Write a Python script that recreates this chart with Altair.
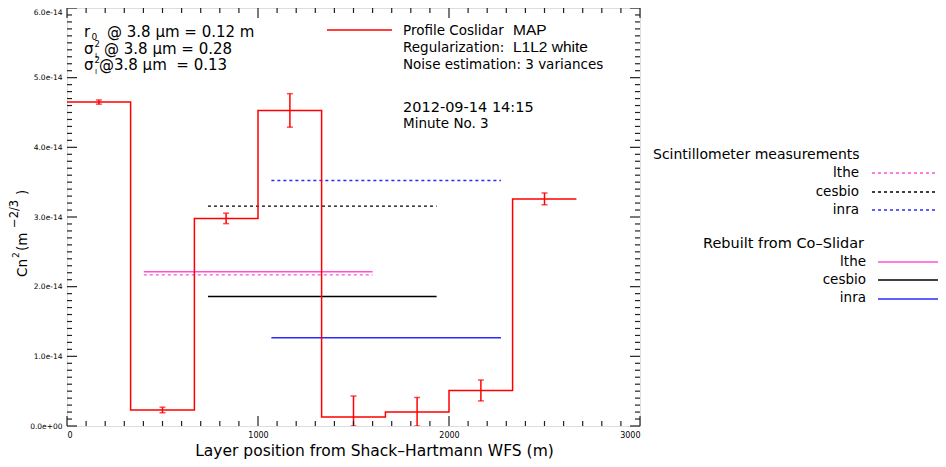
import altair as alt
import pandas as pd

FONT = "DejaVu Sans"
HFONT = "Liberation Sans"
RED = "#ff0000"
PINK = "#ff50d8"
BLUE = "#2a2aff"

# ---- data ----
layer_pos = [167, 500, 833, 1167, 1500, 1833, 2167, 2500]
edges = [0, 333, 667, 1000, 1333, 1667, 2000, 2333, 2667]
cn2 = [4.65e-14, 0.23e-14, 2.98e-14, 4.53e-14, 0.13e-14, 0.20e-14, 0.51e-14, 3.26e-14]
cn2_err = [0.03e-14, 0.04e-14, 0.075e-14, 0.24e-14, 0.30e-14, 0.21e-14, 0.15e-14, 0.085e-14]

inst_names = ["lthe", "cesbio", "inra"]
inst_colors = [PINK, "#000000", BLUE]
path_start = [402, 738, 1070]
path_end = [1600, 1935, 2272]
scint_cn2 = [2.17e-14, 3.156e-14, 3.524e-14]
rebuilt_cn2 = [2.215e-14, 1.858e-14, 1.265e-14]

x_major = [0, 1000, 2000, 3000]
x_minor = [v for v in range(0, 3001, 100) if v % 1000 != 0]
y_major = [i * 1e-14 for i in range(7)]
y_minor = [i * 1e-15 for i in range(61) if i % 10 != 0]

W, H = 573, 418

step_df = pd.DataFrame({"x": edges, "y": cn2 + [cn2[-1]]})
err_df = pd.DataFrame({
    "x": layer_pos,
    "lo": [max(v - e, 0.0) for v, e in zip(cn2, cn2_err)],
    "hi": [v + e for v, e in zip(cn2, cn2_err)],
})
lines_df = pd.DataFrame({
    "name": inst_names, "x": path_start, "x2": path_end,
    "scint": scint_cn2, "rebuilt": rebuilt_cn2,
})

xs = alt.Scale(domain=[0, 3000], nice=False, zero=False)
ys = alt.Scale(domain=[0, 6e-14], nice=False, zero=False)
col_scale = alt.Scale(domain=inst_names, range=inst_colors)

step = alt.Chart(step_df).mark_line(interpolate="step-after", color=RED, strokeWidth=1.5).encode(
    x=alt.X("x:Q", scale=xs, axis=alt.Axis(
        values=x_major, format="d", tickSize=0, domain=False, grid=False,
        labelFontSize=8, labelFont=FONT, labelPadding=5, labelColor="black",
        title="Layer position from Shack\u2013Hartmann WFS (m)", titleFont=FONT,
        titleFontSize=15.5, titleFontWeight="normal", titleX=307, titleY=29,
        titleBaseline="alphabetic", titleColor="black")),
    y=alt.Y("y:Q", scale=ys, axis=alt.Axis(
        values=y_major, tickSize=0, domain=False, grid=False,
        labelExpr="datum.value == 0 ? '0.0e+00' : format(datum.value, '.1e')",
        labelBaseline={"condition": {"test": "datum.value > 5.5e-14", "value": "top"}, "value": "middle"},
        labelFontSize=7.5, labelFont=FONT, labelPadding=5, labelColor="black",
        title="")),
)

err_rule = alt.Chart(err_df).mark_rule(color=RED, strokeWidth=1.5, clip=True).encode(
    x=alt.X("x:Q", scale=xs), y=alt.Y("lo:Q", scale=ys), y2="hi:Q")
cap_lo = alt.Chart(err_df).mark_tick(color=RED, thickness=1.5, size=6, orient="horizontal", clip=True).encode(
    x=alt.X("x:Q", scale=xs), y=alt.Y("lo:Q", scale=ys))
cap_hi = alt.Chart(err_df).mark_tick(color=RED, thickness=1.5, size=6, orient="horizontal", clip=True).encode(
    x=alt.X("x:Q", scale=xs), y=alt.Y("hi:Q", scale=ys))

scint_lines = alt.Chart(lines_df).mark_rule(strokeWidth=1.3, strokeDash=[3, 3]).encode(
    x=alt.X("x:Q", scale=xs), x2="x2:Q", y=alt.Y("scint:Q", scale=ys),
    color=alt.Color("name:N", scale=col_scale, legend=None))
rebuilt_lines = alt.Chart(lines_df).mark_rule(strokeWidth=1.5).encode(
    x=alt.X("x:Q", scale=xs), x2="x2:Q", y=alt.Y("rebuilt:Q", scale=ys),
    color=alt.Color("name:N", scale=col_scale, legend=None))

# inward ticks on all four sides
def xticks(vals, length):
    d = pd.DataFrame({"v": vals})
    b = alt.Chart(d).mark_rule(color="#222", strokeWidth=1.2).encode(
        x=alt.X("v:Q", scale=xs), y=alt.value(H), y2=alt.value(H - length))
    t = alt.Chart(d).mark_rule(color="#222", strokeWidth=1.2).encode(
        x=alt.X("v:Q", scale=xs), y=alt.value(0), y2=alt.value(length))
    return [b, t]

def yticks(vals, length):
    d = pd.DataFrame({"v": vals})
    l = alt.Chart(d).mark_rule(color="#222", strokeWidth=1.2).encode(
        y=alt.Y("v:Q", scale=ys), x=alt.value(0), x2=alt.value(length))
    r = alt.Chart(d).mark_rule(color="#222", strokeWidth=1.2).encode(
        y=alt.Y("v:Q", scale=ys), x=alt.value(W), x2=alt.value(W - length))
    return [l, r]

tick_layers = xticks(x_major, 10) + xticks(x_minor, 5) + yticks(y_major, 10) + yticks(y_minor, 5)

one = alt.Data(values=[{"a": 1}])

def txt(s, x, y, size=13.5, font=FONT, align="left", angle=0):
    return alt.Chart(one).mark_text(
        text=s, align=align, baseline="alphabetic", fontSize=size, font=font,
        angle=angle, color="black").encode(x=alt.value(x), y=alt.value(y))

def seg(x1, x2, y, color, dash=None, width=1.5):
    kw = dict(color=color, strokeWidth=width)
    if dash:
        kw["strokeDash"] = dash
    return alt.Chart(one).mark_rule(**kw).encode(x=alt.value(x1), x2=alt.value(x2), y=alt.value(y))

NB = "\u00a0"
annot = [
    # y-axis title, rotated, with real superscripts
    txt("Cn", -40.5, 269, 13.5, angle=270),
    txt("2", -48.5, 250, 9, angle=270),
    txt("(m", -40.5, 243, 13.5, angle=270),
    txt("\u22122/3", -49, 220, 11.5, angle=270),
    txt(")", -40.5, 187, 13.5, angle=270),
    # top-left parameters
    txt("r", 17, 28.5, 15), txt("0", 24.5, 32, 9),
    txt("@ 3.8 \u03bcm = 0.12 m", 40, 28.5, 15),
    txt("\u03c3", 17, 46, 15), txt("2", 27.5, 39, 8.5), txt("L", 28, 50, 7),
    txt("@ 3.8 \u03bcm = 0.28", 37, 46, 15),
    txt("\u03c3", 17, 62, 15), txt("2", 27.5, 55, 8.5), txt("I", 28, 66, 7),
    txt("@3.8 \u03bcm" + NB + NB + "= 0.13", 32, 62, 15),
    # profile legend
    seg(260, 325, 22, RED),
    txt("Profile Coslidar", 336, 27),
    txt("MAP", 446, 27, 15.5, HFONT),
    txt("Regularization:", 336, 44),
    txt("L1L2 white", 446, 44, 15.5, HFONT),
    txt("Noise estimation: 3 variances", 336, 61),
    txt("2012-09-14 14:15", 336, 104, 14.5),
    txt("Minute No. 3", 336, 120),
    # right legend
    txt("Scintillometer measurements", 586, 151, 14),
    txt("lthe", 792, 169, align="right"), seg(805, 871, 165, PINK, [3, 3], 1.3),
    txt("cesbio", 792, 188, align="right"), seg(805, 871, 184, "#000000", [3, 3], 1.3),
    txt("inra", 792, 206, align="right"), seg(805, 871, 202, BLUE, [3, 3], 1.3),
    txt("Rebuilt from Co\u2013Slidar", 636, 240, 14.5),
    txt("lthe", 799, 258, align="right"), seg(811, 871, 254, PINK),
    txt("cesbio", 799, 276, align="right"), seg(811, 871, 272, "#000000"),
    txt("inra", 799, 294, align="right"), seg(811, 871, 291, BLUE),
]

chart = alt.layer(
    scint_lines, rebuilt_lines, step, err_rule, cap_lo, cap_hi, *tick_layers, *annot
).properties(
    width=W, height=H,
    padding={"left": 59, "top": 0, "right": 298, "bottom": 34},
    autosize=alt.AutoSizeParams(type="none"),
).configure_view(stroke="#222", strokeWidth=1.5).configure(background="white")

chart.save("out.html", embed_options={"renderer": "svg", "actions": False})
